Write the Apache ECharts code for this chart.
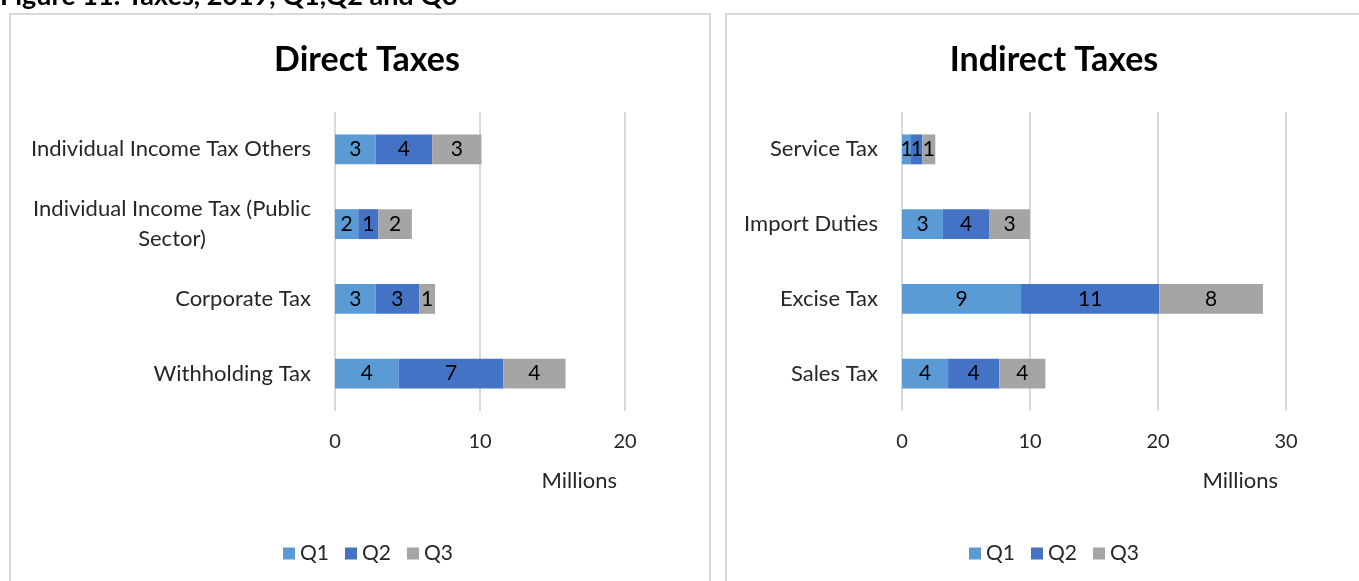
<!DOCTYPE html>
<html>
<head>
<meta charset="utf-8">
<script src="https://cdn.jsdelivr.net/npm/echarts@6/dist/echarts.min.js"></script>
<style>
  html, body { margin: 0; padding: 0; background: #fff; }
  #chart { width: 1359px; height: 581px; }
</style>
</head>
<body>
<div id="chart"></div>
<script>
// Quarterly tax receipts, 2019 (millions)
const quarters = ['Q1', 'Q2', 'Q3'];

const directCategories = ['Individual Income Tax Others', 'Individual Income Tax (Public Sector)', 'Corporate Tax', 'Withholding Tax'];
const directQ1 = [2.8, 1.6, 2.8, 4.4];
const directQ2 = [3.9, 1.4, 3.0, 7.2];
const directQ3 = [3.4, 2.3, 1.1, 4.3];

const indirectCategories = ['Service Tax', 'Import Duties', 'Excise Tax', 'Sales Tax'];
const indirectQ1 = [0.7, 3.2, 9.3, 3.6];
const indirectQ2 = [0.9, 3.6, 10.8, 4.0];
const indirectQ3 = [1.0, 3.2, 8.1, 3.6];

const directTicks = { min: 0, max: 20, interval: 10 };
const indirectTicks = { min: 0, max: 30, interval: 10 };

const colors = ['#5B9BD5', '#4472C4', '#A5A5A5'];
const FONT = 'Lato, "Open Sans", sans-serif';
const TEXT = '#262626';
const GRID_LINE = '#D9D9D9';
const CAT_SIZE = 22;

// width of the first line of the wrapped category, used to centre the second line under it
function measure(text, size) {
  const c = document.createElement('canvas').getContext('2d');
  c.font = size + 'px ' + FONT;
  return Math.ceil(c.measureText(text).width);
}
const WRAP_AT = 'Individual Income Tax (Public';
const wrapWidth = measure(WRAP_AT, CAT_SIZE);

function catFormatter(v) {
  if (v.indexOf(WRAP_AT) === 0) {
    return '{c|' + WRAP_AT + '\n' + v.slice(WRAP_AT.length).trim() + '}';
  }
  return v;
}

const chart = echarts.init(document.getElementById('chart'));

function xAxis(gridIndex, ticks, nameGap) {
  return {
    type: 'value', gridIndex,
    min: ticks.min, max: ticks.max, interval: ticks.interval,
    axisLine: { show: false }, axisTick: { show: false },
    splitLine: { show: true, lineStyle: { color: GRID_LINE, width: 2 } },
    axisLabel: { fontFamily: FONT, fontSize: 20, color: TEXT, margin: 21 },
    name: 'Millions', nameLocation: 'end', nameGap: nameGap,
    nameTextStyle: { fontFamily: FONT, fontSize: CAT_SIZE, color: TEXT, align: 'right', verticalAlign: 'top', padding: [59, 0, 0, 0] }
  };
}

function yAxis(gridIndex, cats) {
  return {
    type: 'category', gridIndex, data: cats, inverse: true,
    axisLine: { show: false }, axisTick: { show: false },
    axisLabel: {
      fontFamily: FONT, fontSize: CAT_SIZE, color: TEXT, margin: 24,
      formatter: catFormatter,
      rich: { c: { fontFamily: FONT, fontSize: CAT_SIZE, color: TEXT, width: wrapWidth, align: 'center', lineHeight: 30 } }
    }
  };
}

function barSeries(name, data, idx, axisIdx) {
  return {
    name, type: 'bar', stack: 'total' + axisIdx,
    xAxisIndex: axisIdx, yAxisIndex: axisIdx,
    data, barCategoryGap: '60%',
    itemStyle: { color: colors[idx] },
    label: {
      show: true, position: 'inside', fontFamily: FONT, fontSize: 21, color: '#000',
      formatter: p => Math.round(p.value)
    },
    emphasis: { disabled: true }
  };
}

function legend(left) {
  return {
    data: quarters, left, top: 538, icon: 'rect', itemWidth: 12, itemHeight: 12, itemGap: 16,
    textStyle: { fontFamily: FONT, fontSize: 21, color: TEXT }
  };
}

chart.setOption({
  animation: false,
  color: colors,
  title: [
    { text: 'Direct Taxes', left: 362, textAlign: 'center', top: 38,
      textStyle: { fontFamily: FONT, fontSize: 34, fontWeight: 'bold', color: '#000' } },
    { text: 'Indirect Taxes', left: 1049, textAlign: 'center', top: 38,
      textStyle: { fontFamily: FONT, fontSize: 34, fontWeight: 'bold', color: '#000' } }
  ],
  graphic: [
    { type: 'text', x: 0, y: 10,
      style: { text: 'Figure 11: Taxes, 2019, Q1,Q2 and Q3', font: 'bold 27px ' + FONT, fill: '#000', verticalAlign: 'bottom' } },
    { type: 'rect', shape: { x: 10, y: 14, width: 700, height: 600 },
      style: { fill: 'none', stroke: GRID_LINE, lineWidth: 2 }, z: -1 },
    { type: 'rect', shape: { x: 726, y: 14, width: 700, height: 600 },
      style: { fill: 'none', stroke: GRID_LINE, lineWidth: 2 }, z: -1 }
  ],
  legend: [legend(278), legend(964)],
  grid: [
    { left: 335, top: 112, width: 290, height: 299 },
    { left: 902, top: 112, width: 384, height: 299 }
  ],
  xAxis: [xAxis(0, directTicks, -8), xAxis(1, indirectTicks, -8)],
  yAxis: [yAxis(0, directCategories), yAxis(1, indirectCategories)],
  series: [
    barSeries('Q1', directQ1, 0, 0),
    barSeries('Q2', directQ2, 1, 0),
    barSeries('Q3', directQ3, 2, 0),
    barSeries('Q1', indirectQ1, 0, 1),
    barSeries('Q2', indirectQ2, 1, 1),
    barSeries('Q3', indirectQ3, 2, 1)
  ]
});
</script>
</body>
</html>
